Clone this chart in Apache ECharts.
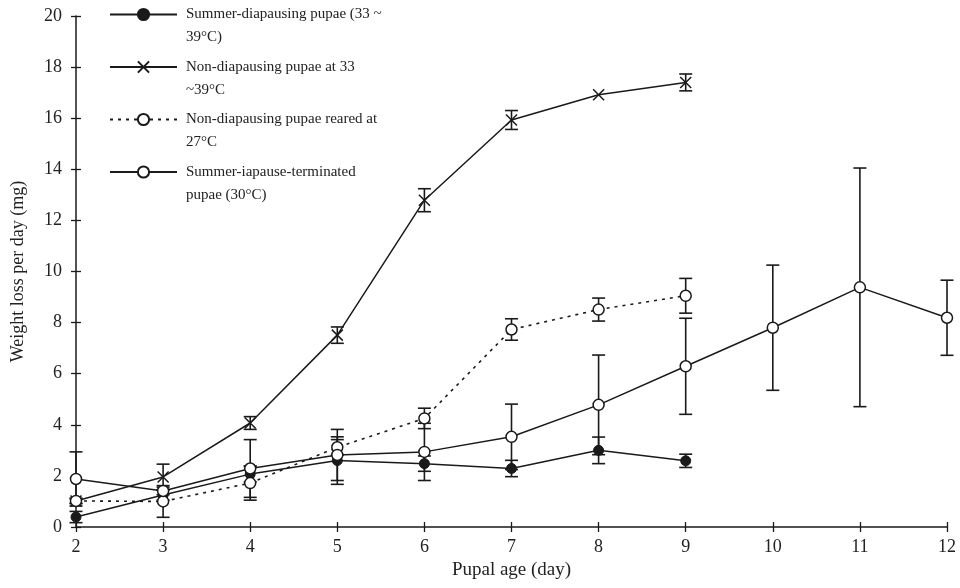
<!DOCTYPE html>
<html><head><meta charset="utf-8">
<script src="https://cdn.jsdelivr.net/npm/echarts@6/dist/echarts.min.js"></script>
<style>html,body{margin:0;padding:0;background:#fff}#c{width:960px;height:588px}</style>
</head><body><div id="c"></div>
<script>
const days = [2, 3, 4, 5, 6, 7, 8, 9, 10, 11, 12];
const names = [
  'Summer-diapausing pupae (33 ~\n39°C)',
  'Non-diapausing pupae at 33\n~39°C',
  'Non-diapausing pupae reared at\n27°C',
  'Summer-iapause-terminated\npupae (30°C)'
];
const summerDiapause = [0.39, 1.25, 2.07, 2.6, 2.48, 2.29, 3.0, 2.59];
const summerDiapauseErr = [0.22, 0.2, 0.3, 0.93, 0.3, 0.32, 0.52, 0.26];
const nonDiapause3339 = [1.02, 1.96, 4.07, 7.51, 12.79, 15.93, 16.92, 17.4];
const nonDiapause3339Err = [0.1, 0.5, 0.25, 0.32, 0.45, 0.37, 0, 0.33];
const nonDiapause27 = [1.02, 1.0, 1.72, 3.12, 4.25, 7.73, 8.51, 9.05];
const nonDiapause27Err = [0.1, 0.62, 0.67, 0.3, 0.4, 0.42, 0.45, 0.68];
const terminated30 = [1.88, 1.41, 2.29, 2.82, 2.94, 3.53, 4.78, 6.29, 7.8, 9.38, 8.19];
const terminated30Err = [1.06, 0.15, 1.13, 1.0, 1.12, 1.28, 1.95, 1.88, 2.45, 4.67, 1.47];
const yTicks = {min: 0, max: 20, interval: 2};
const xTicks = {min: 2, max: 12, interval: 1};

const INK = '#1a1a1a';
const FONT = 'Liberation Serif';
function pairs(vals) { return vals.map((v, i) => [days[i], v]); }
function errData(vals, errs) { return vals.map((v, i) => [days[i], v, errs[i]]); }
function errSeries(vals, errs) {
  return {
    type: 'custom', z: 1, silent: true,
    data: errData(vals, errs),
    renderItem: function (params, api) {
      const x = api.value(0), v = api.value(1), e = api.value(2);
      if (!e) return null;
      const lo = api.coord([x, v - e]), hi = api.coord([x, v + e]);
      const w = 6.5;
      const st = {stroke: INK, lineWidth: 1.6};
      return {type: 'group', children: [
        {type: 'line', shape: {x1: lo[0], y1: lo[1], x2: hi[0], y2: hi[1]}, style: st},
        {type: 'line', shape: {x1: lo[0] - w, y1: lo[1], x2: lo[0] + w, y2: lo[1]}, style: st},
        {type: 'line', shape: {x1: hi[0] - w, y1: hi[1], x2: hi[0] + w, y2: hi[1]}, style: st}
      ]};
    }
  };
}
const openItem = {color: '#fff', borderColor: INK, borderWidth: 1.5};
const chart = echarts.init(document.getElementById('c'));
const axisLabel = {fontFamily: FONT, fontSize: 18, color: '#222'};
chart.setOption({
  animation: false,
  backgroundColor: '#fff',
  grid: {left: 76, right: 13, top: 16, bottom: 61, containLabel: false, outerBoundsMode: 'none'},
  legend: {
    orient: 'vertical', left: 109, top: -20, padding: 0,
    itemWidth: 67, itemHeight: 14, itemGap: -16.5,
    data: names,
    formatter: function (name) { return ' \n' + name; },
    textStyle: {fontFamily: FONT, fontSize: 15, color: '#222', lineHeight: 23, padding: [0, 0, 0, 4]}
  },
  xAxis: [{
    type: 'value', min: xTicks.min, max: xTicks.max, interval: xTicks.interval,
    name: 'Pupal age (day)', nameLocation: 'middle', nameGap: 31,
    nameTextStyle: {fontFamily: FONT, fontSize: 19, color: '#222'},
    axisLine: {lineStyle: {color: INK, width: 1.5}},
    axisTick: {length: 5, lineStyle: {color: INK, width: 1.3}},
    axisLabel: Object.assign({margin: 11}, axisLabel),
    splitLine: {show: false}
  }, {
    type: 'value', position: 'bottom', min: xTicks.min, max: xTicks.max, interval: xTicks.interval,
    axisLine: {show: false}, axisLabel: {show: false}, splitLine: {show: false},
    axisTick: {inside: true, length: 5, lineStyle: {color: INK, width: 1.3}}
  }],
  yAxis: [{
    type: 'value', min: yTicks.min, max: yTicks.max, interval: yTicks.interval,
    name: 'Weight loss per day (mg)', nameLocation: 'middle', nameGap: 49,
    nameTextStyle: {fontFamily: FONT, fontSize: 18, color: '#222'},
    axisLine: {show: true, lineStyle: {color: INK, width: 1.5}},
    axisTick: {show: true, length: 5, lineStyle: {color: INK, width: 1.3}},
    axisLabel: Object.assign({margin: 14}, axisLabel),
    splitLine: {show: false}
  }, {
    type: 'value', position: 'left', min: yTicks.min, max: yTicks.max, interval: yTicks.interval,
    axisLine: {show: false}, axisLabel: {show: false}, splitLine: {show: false},
    axisTick: {show: true, inside: true, length: 5, lineStyle: {color: INK, width: 1.3}}
  }],
  series: [
    errSeries(summerDiapause, summerDiapauseErr),
    errSeries(nonDiapause3339, nonDiapause3339Err),
    errSeries(nonDiapause27, nonDiapause27Err),
    errSeries(terminated30, terminated30Err),
    {
      name: names[0], type: 'line', data: pairs(summerDiapause), z: 3,
      symbol: 'circle', symbolSize: 10,
      lineStyle: {color: INK, width: 1.5},
      itemStyle: {color: INK, borderColor: INK, borderWidth: 1}
    },
    {
      name: names[1], type: 'line', data: pairs(nonDiapause3339), z: 3,
      symbol: 'path://M0,0L10,10M10,0L0,10', symbolSize: 11,
      lineStyle: {color: INK, width: 1.5},
      itemStyle: {color: 'rgba(0,0,0,0)', borderColor: INK, borderWidth: 1.5}
    },
    {
      name: names[2], type: 'line', data: pairs(nonDiapause27), z: 3,
      symbol: 'circle', symbolSize: 11,
      lineStyle: {color: INK, width: 1.6, type: [3, 5]},
      itemStyle: openItem
    },
    {
      name: names[3], type: 'line', data: pairs(terminated30), z: 4,
      symbol: 'circle', symbolSize: 11,
      lineStyle: {color: INK, width: 1.5},
      itemStyle: openItem
    }
  ]
});
</script></body></html>
